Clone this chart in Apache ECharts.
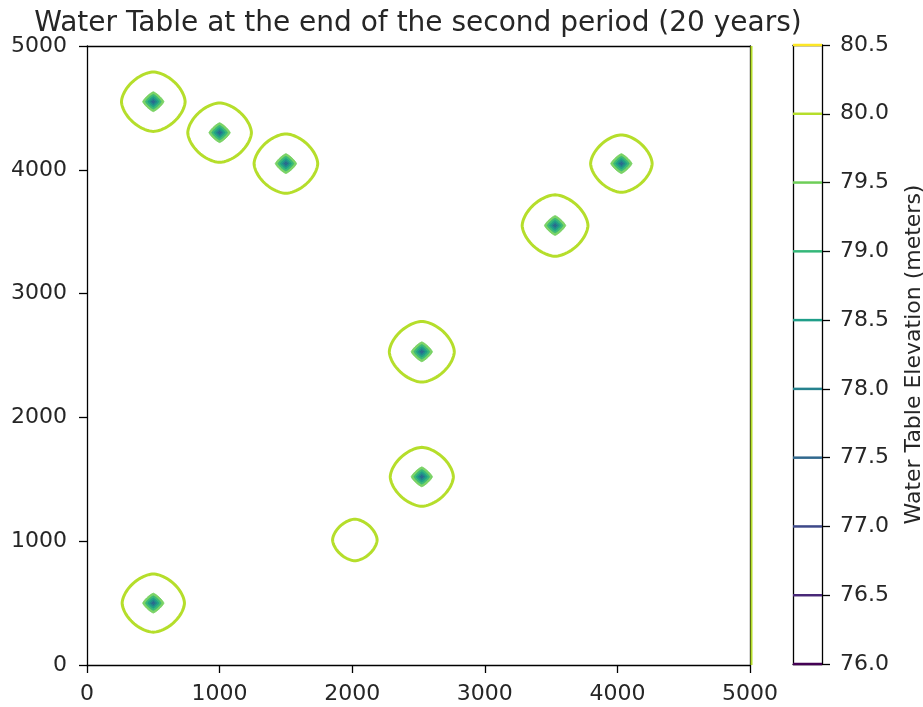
<!DOCTYPE html>
<html><head><meta charset="utf-8">
<script src="https://cdn.jsdelivr.net/npm/echarts@6/dist/echarts.min.js"></script>
<style>html,body{margin:0;padding:0;background:#fff}#c{width:923px;height:707px}</style>
</head><body><div id="c"></div>
<script>
// ---- data ----
const titleText = 'Water Table at the end of the second period (20 years)';
const colorbarLabel = 'Water Table Elevation (meters)';
// pumping wells (model coordinates, m)
const wellX = [500, 1000, 1500, 4030, 3530, 2525, 2525, 2020, 500];
const wellY = [4550, 4300, 4050, 4050, 3550, 2530, 1520, 1010, 500];
// half-width (m) of the 80.0 m contour around each well
const contour80Radius = [240, 240, 240, 232, 248, 245, 238, 168, 235];
// whether the deeper cone (79.5 m and below) is visible at each well
const hasInnerCone = [1, 1, 1, 1, 1, 1, 1, 0, 1];
// deeper contour levels near each well and their half-widths (m)
const innerLevels = [79.5, 79.0, 78.5, 78.0, 77.5];
const innerLevelRadius = [80, 58, 40, 24, 10];
// 80.0 m contour that follows the east boundary
const boundaryContourX = [5000];
// contour levels and colours (viridis)
const levels = [76.0, 76.5, 77.0, 77.5, 78.0, 78.5, 79.0, 79.5, 80.0, 80.5];
const levelColors = ['#440154', '#482878', '#3e4989', '#31688e', '#26828e',
                     '#1f9e89', '#35b779', '#6ece58', '#b5de2b', '#fde725'];
const axisMin = 0, axisMax = 5000, axisStep = 1000;

// ---- chart ----
const font = 'DejaVu Sans';
const txt = '#262626';
function colorOf(level) { return levelColors[levels.indexOf(level)]; }

function shapePoints(api, cx, cy, r, p) {
  const pts = [];
  const n = 96;
  for (let i = 0; i < n; i++) {
    const t = (i / n) * Math.PI * 2;
    const c = Math.cos(t), s = Math.sin(t);
    const dx = r * Math.sign(c) * Math.pow(Math.abs(c), 2 / p);
    const dy = r * Math.sign(s) * Math.pow(Math.abs(s), 2 / p);
    pts.push(api.coord([cx + dx, cy + dy]));
  }
  return pts;
}

const chart = echarts.init(document.getElementById('c'), null, {renderer: 'canvas'});
const mainAxisBase = {
  type: 'value', min: axisMin, max: axisMax, interval: axisStep,
  axisLine: {show: true, onZero: false, lineStyle: {color: '#000', width: 1.3}},
  splitLine: {show: false}
};
chart.setOption({
  backgroundColor: '#fff',
  animation: false,
  graphic: [{
    type: 'text', x: 418, y: 24, z: 10,
    style: {text: titleText, font: '28px "' + font + '"', fill: txt, textAlign: 'center', textVerticalAlign: 'middle'}
  }],
  grid: [
    {left: 87, right: 173, top: 46, bottom: 42, outerBoundsMode: 'none', containLabel: false},
    {left: 793, width: 29, top: 45, bottom: 43, outerBoundsMode: 'none', containLabel: false}
  ],
  xAxis: [
    Object.assign({}, mainAxisBase, {gridIndex: 0, position: 'bottom',
      axisTick: {show: true, length: 8, lineStyle: {color: '#000', width: 1.3}},
      axisLabel: {fontFamily: font, fontSize: 22, color: txt, margin: 18, formatter: v => String(v)}}),
    Object.assign({}, mainAxisBase, {gridIndex: 0, position: 'top', axisTick: {show: false}, axisLabel: {show: false}}),
    {type: 'value', gridIndex: 1, min: 0, max: 1, position: 'bottom',
      axisLine: {show: true, onZero: false, lineStyle: {color: '#000', width: 1.3}},
      axisTick: {show: false}, axisLabel: {show: false}, splitLine: {show: false}},
    {type: 'value', gridIndex: 1, min: 0, max: 1, position: 'top',
      axisLine: {show: true, onZero: false, lineStyle: {color: '#000', width: 1.3}},
      axisTick: {show: false}, axisLabel: {show: false}, splitLine: {show: false}}
  ],
  yAxis: [
    Object.assign({}, mainAxisBase, {gridIndex: 0, position: 'left',
      axisTick: {show: true, length: 8, lineStyle: {color: '#000', width: 1.3}},
      axisLabel: {fontFamily: font, fontSize: 22, color: txt, margin: 20, formatter: v => String(v)}}),
    Object.assign({}, mainAxisBase, {gridIndex: 0, position: 'right', axisTick: {show: false}, axisLabel: {show: false}}),
    {type: 'value', gridIndex: 1, min: levels[0], max: levels[levels.length - 1], interval: 0.5, position: 'right',
      axisLine: {show: true, onZero: false, lineStyle: {color: '#000', width: 1.3}},
      axisTick: {show: true, length: 8, lineStyle: {color: '#000', width: 1.3}},
      axisLabel: {fontFamily: font, fontSize: 22, color: txt, margin: 18, formatter: v => v.toFixed(1)},
      splitLine: {show: false},
      name: colorbarLabel, nameLocation: 'middle', nameRotate: 90, nameGap: 81,
      nameTextStyle: {fontFamily: font, fontSize: 22, color: txt}},
    {type: 'value', gridIndex: 1, min: levels[0], max: levels[levels.length - 1], position: 'left',
      axisLine: {show: true, onZero: false, lineStyle: {color: '#000', width: 1.3}},
      axisTick: {show: false}, axisLabel: {show: false}, splitLine: {show: false}}
  ],
  series: [
    {
      type: 'custom', xAxisIndex: 0, yAxisIndex: 0, clip: false,
      data: boundaryContourX.map(x => [x]),
      encode: {x: 0},
      renderItem: function (params, api) {
        const x = api.value(0);
        const a = api.coord([x, axisMin]);
        const b = api.coord([x, axisMax]);
        return {type: 'line', shape: {x1: a[0] + 1.5, y1: a[1], x2: b[0] + 1.5, y2: b[1]},
          style: {stroke: colorOf(80.0), lineWidth: 2}};
      }
    },
    {
      type: 'custom', xAxisIndex: 0, yAxisIndex: 0,
      data: wellX.map((x, i) => [x, wellY[i], contour80Radius[i], hasInnerCone[i]]),
      encode: {x: 0, y: 1},
      renderItem: function (params, api) {
        const cx = api.value(0), cy = api.value(1), r = api.value(2), inner = api.value(3);
        const children = [{
          type: 'polygon', shape: {points: shapePoints(api, cx, cy, r, 1.68)},
          style: {fill: 'none', stroke: colorOf(80.0), lineWidth: 3}
        }];
        if (inner) {
          innerLevels.forEach((lv, k) => {
            children.push({
              type: 'polygon', shape: {points: shapePoints(api, cx, cy, innerLevelRadius[k], 1.25)},
              style: {fill: colorOf(lv), stroke: colorOf(lv), lineWidth: 1, opacity: 0.9}
            });
          });
        }
        return {type: 'group', children: children};
      }
    },
    {
      type: 'custom', xAxisIndex: 2, yAxisIndex: 2, clip: false,
      data: levels.map(v => [0, v]),
      encode: {x: 0, y: 1},
      renderItem: function (params, api) {
        const v = api.value(1);
        const a = api.coord([0, v]);
        const b = api.coord([1, v]);
        return {type: 'line', shape: {x1: a[0], y1: a[1], x2: b[0], y2: b[1]},
          style: {stroke: levelColors[params.dataIndex], lineWidth: 2.5}};
      }
    }
  ]
});
</script></body></html>
